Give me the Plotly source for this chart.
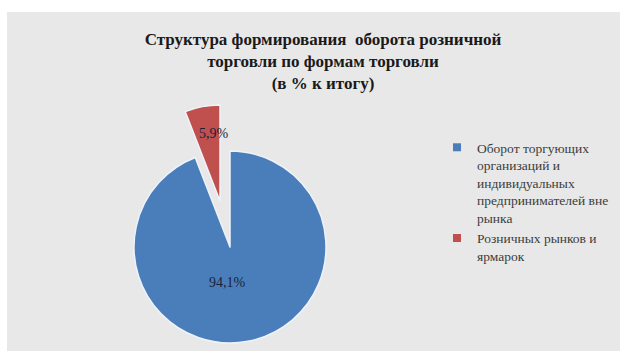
import plotly.graph_objects as go

W, H = 625, 351

# ---- data ----
labels = [
    "Оборот торгующих организаций и индивидуальных предпринимателей вне рынка",
    "Розничных рынков и ярмарок",
]
legend_labels = [
    "Оборот торгующих<br>организаций и<br>индивидуальных<br>предпринимателей вне<br>рынка",
    "Розничных рынков и<br>ярмарок",
]
values = [94.1, 5.9]
title_text = "<b>Структура формирования  оборота розничной<br>торговли по формам торговли<br>(в % к итогу)</b>"

BLUE = "#4a7ebb"
RED = "#c0504d"
CLEAR = "rgba(0,0,0,0)"
EDGE = "#eef3fa"

def fx(x):
    return x / W

def fy(y):
    return 1 - y / H

R = 96
# main (blue) pie centre and exploded (red) slice centre, in pixels
cb = (230, 247)
cr = (220, 201)
# label anchor positions in pixels
label_pos = [(227, 282), (214, 133)]

text_font = dict(family="Liberation Serif", size=14, color="#1a1f3a")

fig = go.Figure()

fig.add_trace(go.Pie(
    values=values, labels=labels, sort=False, direction="clockwise", rotation=0,
    marker=dict(colors=[BLUE, CLEAR], line=dict(color=[EDGE, CLEAR], width=1.5)),
    domain=dict(x=[fx(cb[0] - R), fx(cb[0] + R)], y=[fy(cb[1] + R), fy(cb[1] - R)]),
    textinfo="none", showlegend=False, hoverinfo="label+percent",
))

fig.add_trace(go.Pie(
    values=values, labels=labels, sort=False, direction="clockwise", rotation=0,
    marker=dict(colors=[CLEAR, RED], line=dict(color=[CLEAR, EDGE], width=1.5)),
    domain=dict(x=[fx(cr[0] - R), fx(cr[0] + R)], y=[fy(cr[1] + R), fy(cr[1] - R)]),
    textinfo="none", showlegend=False, hoverinfo="label+percent",
))

for name, col in zip(legend_labels, [BLUE, RED]):
    fig.add_trace(go.Scatter(
        x=[None], y=[None], mode="markers", name=name,
        marker=dict(symbol="square", size=8, color=col),
    ))

annotations = []
for v, (px_, py_) in zip(values, label_pos):
    annotations.append(dict(
        text=f"{v:.1f}".replace(".", ",") + "%",
        x=fx(px_), y=fy(py_), xref="paper", yref="paper",
        xanchor="center", yanchor="middle", showarrow=False,
        font=text_font,
    ))

fig.update_layout(
    width=W, height=H,
    margin=dict(l=0, r=0, t=0, b=0),
    paper_bgcolor="white",
    plot_bgcolor="rgba(0,0,0,0)",
    xaxis=dict(visible=False),
    yaxis=dict(visible=False),
    title=dict(
        text=title_text, x=323 / W, xanchor="center", xref="container",
        y=1 - 45 / H, yanchor="top", yref="container",
        font=dict(family="Liberation Serif", size=17, color="#1a1a1a"),
    ),
    legend=dict(
        x=fx(437), y=fy(132), xanchor="left", yanchor="top",
        font=dict(family="Liberation Serif", size=13.5, color="#3c3c3c"),
        valign="top", tracegroupgap=3, bgcolor="rgba(0,0,0,0)",
        itemwidth=30,
    ),
    annotations=annotations,
    shapes=[dict(
        type="rect", xref="paper", yref="paper",
        x0=fx(7), x1=fx(620), y0=fy(351), y1=fy(12),
        fillcolor="#e8e8e8", line=dict(width=0), layer="below",
    )],
)

fig.write_html("out.html")
